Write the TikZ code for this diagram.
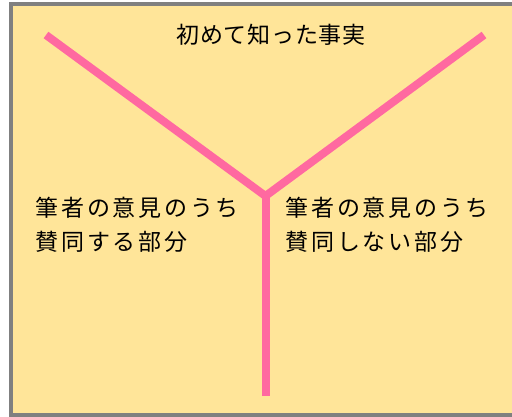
\documentclass[tikz,border=0pt]{standalone}
\usepackage{fontspec}
\setmainfont{Noto Sans CJK JP}
\newfontfamily\titlefont{Noto Sans CJK JP}[LetterSpace=3]
\newfontfamily\bodyfont{Noto Sans CJK JP}[LetterSpace=12]
\definecolor{bgyellow}{RGB}{255,229,153}
\definecolor{bordergray}{RGB}{128,128,128}
\definecolor{ypink}{RGB}{255,105,160}
\tikzset{
  arm/.style={draw=ypink, line width=8pt, line cap=butt, line join=miter},
  label/.style={text=black, inner sep=0pt, align=left},
  frame/.style={draw=bordergray, line width=4pt, line join=miter}
}
\begin{document}
\begin{tikzpicture}[x=1pt,y=-1pt]
\useasboundingbox (0,0) rectangle (512,417);
\fill[bgyellow] (10.7,4) rectangle (512,414.7);
\draw[frame] (512,4) -- (10.7,4) -- (10.7,414.7) -- (512,414.7);
\coordinate (L) at (46,35);
\coordinate (J) at (265.5,196);
\coordinate (R) at (484,35);
\coordinate (B) at (265.5,396);
\draw[arm] (L) -- (J) -- (R);
\draw[arm] (J) -- (B);
\node[label, font=\titlefont\fontsize{23}{33}\selectfont] (title) at (271,35) {初めて知った事実};
\node[label, anchor=west, font=\bodyfont\fontsize{23}{33.5}\selectfont] (left) at (35.5,224.8) {筆者の意見のうち\\賛同する部分};
\node[label, anchor=west, font=\bodyfont\fontsize{23}{33.5}\selectfont] (right) at (285.5,224.8) {筆者の意見のうち\\賛同しない部分};
\end{tikzpicture}
\end{document}
